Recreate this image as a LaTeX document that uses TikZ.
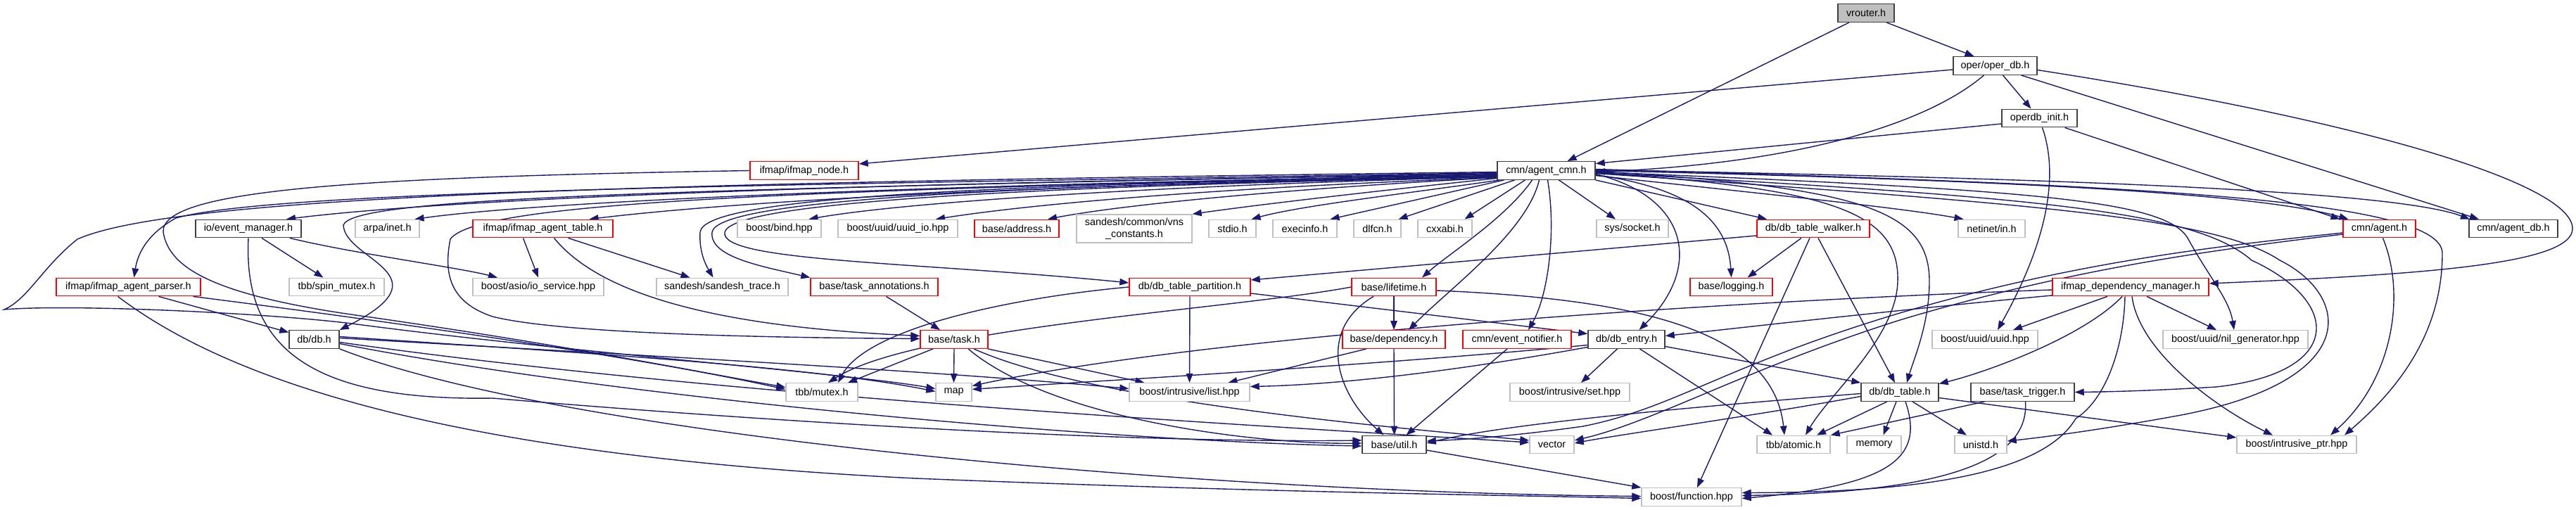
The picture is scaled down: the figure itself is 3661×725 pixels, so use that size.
\documentclass[tikz,border=0pt]{standalone}
\usepackage{fontspec}
\setmainfont{Liberation Sans}
\usetikzlibrary{arrows.meta}
\definecolor{edgec}{HTML}{191970}
\definecolor{nodeblack}{HTML}{404040}
\definecolor{nodered}{HTML}{FF0000}
\definecolor{nodegrey}{HTML}{BFBFBF}
\definecolor{rootfill}{HTML}{BFBFBF}
\pgfdeclarelayer{bg}
\pgfsetlayers{bg,main}
\tikzset{
  box/.style={rectangle, draw, line width=1.4pt, minimum height=25.5pt, inner xsep=3pt, inner ysep=2pt, fill=white, font=\fontsize{14.4}{16.5}\selectfont},
  nb/.style={box, draw=nodeblack},
  nr/.style={box, draw=nodered},
  ng/.style={box, draw=nodegrey},
  rootbox/.style={box, draw=nodeblack, fill=rootfill},
  e/.style={draw=edgec, line width=1.4pt, -{Triangle[length=13pt,width=9.5pt]}}
}
\begin{document}
\begin{tikzpicture}[x=1pt,y=-1pt]
\useasboundingbox (0,0) rectangle (3661,725);
% row 0-3
\node[rootbox, minimum width=80pt] (vrouter) at (2652,18.5) {vrouter.h};
\node[nb, minimum width=119pt] (operdb) at (2835.5,93.5) {oper/oper\_db.h};
\node[nb, minimum width=107pt] (operdbinit) at (2898.5,168) {operdb\_init.h};
\node[nr, minimum width=154pt] (ifmapnode) at (1143,242.5) {ifmap/ifmap\_node.h};
\node[nb, minimum width=139pt] (agentcmn) at (2197.5,242.5) {cmn/agent\_cmn.h};
% row 4
\node[nb, minimum width=150pt] (eventmgr) at (353,325) {io/event\_manager.h};
\node[ng, minimum width=91pt] (inet) at (550.5,325) {arpa/inet.h};
\node[nr, minimum width=199pt] (agenttable) at (771.5,325) {ifmap/ifmap\_agent\_table.h};
\node[ng, minimum width=119pt] (bind) at (1107.5,325) {boost/bind.hpp};
\node[ng, minimum width=170pt] (uuidio) at (1276,325) {boost/uuid/uuid\_io.hpp};
\node[nr, minimum width=120pt] (address) at (1445,325) {base/address.h};
\node[ng, minimum width=164pt, minimum height=40pt, align=center] (vns) at (1612,325) {sandesh/common/vns\\\_constants.h};
\node[ng, minimum width=67pt] (stdio) at (1751.5,325) {stdio.h};
\node[ng, minimum width=91pt] (execinfo) at (1854.5,325) {execinfo.h};
\node[ng, minimum width=67pt] (dlfcn) at (1957.5,325) {dlfcn.h};
\node[ng, minimum width=77pt] (cxxabi) at (2053.5,325) {cxxabi.h};
\node[ng, minimum width=102pt] (socket) at (2320,325) {sys/socket.h};
\node[nr, minimum width=160pt] (walker) at (2577,325) {db/db\_table\_walker.h};
\node[ng, minimum width=95pt] (netinet) at (2830.5,325) {netinet/in.h};
\node[nr, minimum width=103pt] (agent) at (3381.5,325) {cmn/agent.h};
\node[nb, minimum width=126pt] (agentdb) at (3572,325) {cmn/agent\_db.h};
% row 5
\node[nr, minimum width=205pt] (parser) at (182.5,408) {ifmap/ifmap\_agent\_parser.h};
\node[ng, minimum width=135pt] (spin) at (478.5,408) {tbb/spin\_mutex.h};
\node[ng, minimum width=186pt] (ioservice) at (765,408) {boost/asio/io\_service.hpp};
\node[ng, minimum width=187pt] (strace) at (1026.5,408) {sandesh/sandesh\_trace.h};
\node[nr, minimum width=181pt] (annot) at (1242.5,408) {base/task\_annotations.h};
\node[nr, minimum width=172pt] (partition) at (1691,408) {db/db\_table\_partition.h};
\node[nr, minimum width=120pt] (lifetime) at (1981,408) {base/lifetime.h};
\node[nr, minimum width=117pt] (logging) at (2460.5,408) {base/logging.h};
\node[nr, minimum width=222pt] (depmgr) at (3028,408) {ifmap\_dependency\_manager.h};
% row 6
\node[nb, minimum width=71pt] (db) at (446.5,482.5) {db/db.h};
\node[nr, minimum width=96pt] (task) at (1356,482.5) {base/task.h};
\node[nr, minimum width=146pt] (dependency) at (1981,482.5) {base/dependency.h};
\node[nr, minimum width=154pt] (notifier) at (2156,482.5) {cmn/event\_notifier.h};
\node[nb, minimum width=109pt] (dbentry) at (2311.5,482.5) {db/db\_entry.h};
\node[ng, minimum width=150pt] (uuid) at (2821,482.5) {boost/uuid/uuid.hpp};
\node[ng, minimum width=206pt] (nilgen) at (3177,482.5) {boost/uuid/nil\_generator.hpp};
% row 7
\node[ng, minimum width=102pt] (mutex) at (1168,557.5) {tbb/mutex.h};
\node[ng, minimum width=51pt] (map) at (1355.5,557.5) {map};
\node[ng, minimum width=171pt] (ilist) at (1690.5,557.5) {boost/intrusive/list.hpp};
\node[ng, minimum width=170pt] (iset) at (2231,557.5) {boost/intrusive/set.hpp};
\node[nb, minimum width=110pt] (dbtable) at (2700,557.5) {db/db\_table.h};
\node[nb, minimum width=147pt] (trigger) at (2874.5,557.5) {base/task\_trigger.h};
% row 8
\node[nb, minimum width=91pt] (util) at (1981.5,632) {base/util.h};
\node[ng, minimum width=63pt] (vector) at (2205.5,632) {vector};
\node[ng, minimum width=104pt] (atomic) at (2549,632) {tbb/atomic.h};
\node[ng, minimum width=77pt] (memory) at (2663.5,632) {memory};
\node[ng, minimum width=74pt] (unistd) at (2815,632) {unistd.h};
\node[ng, minimum width=170pt] (iptr) at (3264,632) {boost/intrusive\_ptr.hpp};
% row 9
\node[ng, minimum width=142pt] (function) at (2404,706.5) {boost/function.hpp};

\begin{pgfonlayer}{bg}
% top part
\draw[e] ([xshift=-24]vrouter.south) -- ([xshift=30]agentcmn.north);
\draw[e] ([xshift=29]vrouter.south) -- ([xshift=-30]operdb.north);
\draw[e] ([xshift=11]operdb.south) -- ([xshift=-12]operdbinit.north);
\draw[e] ([xshift=-16]operdb.south) .. controls (2740,175) and (2560,232) .. ([yshift=-2]agentcmn.east);
\draw[e] ([yshift=-5.5]operdb.west) -- ([yshift=9.5]ifmapnode.east);
\draw[e] ([xshift=37]operdb.south) -- ([xshift=-49]agentdb.north);
\draw[e] ([yshift=-6]operdb.east) .. controls (3350,170) and (3656,260) .. (3656,325) .. controls (3656,375) and (3450,390) .. ([yshift=5]depmgr.east);
\draw[e] ([yshift=-8]operdbinit.west) -- ([yshift=10]agentcmn.east);
\draw[e] ([xshift=36]operdbinit.south) -- ([xshift=-56]agent.north);
\draw[e] ([xshift=4]operdbinit.south) .. controls (2930,260) and (2900,360) .. ([xshift=18]uuid.north);
% agent_cmn to the left
\draw[e] ([yshift=-2]agentcmn.west) .. controls (900,260) and (250,278) .. (110,340) .. controls (60,380) and (40,425) .. (6,440) .. controls (100,432) and (380,445) .. (500,460) .. controls (800,500) and (1200,530) .. ([yshift=5]map.west);
\draw[e] ([yshift=-3]agentcmn.west) .. controls (1200,262) and (400,268) .. (250,310) .. controls (205,335) and (195,365) .. ([xshift=8]parser.north);
\draw[e] ([yshift=-4]agentcmn.west) .. controls (900,270) and (500,282) .. (488,320) .. controls (490,370) and (640,390) .. (db.north east);
\draw[e] ([yshift=-5]agentcmn.west) .. controls (1200,270) and (680,283) .. (640,340) .. controls (630,390) and (640,430) .. (700,450) .. controls (800,475) and (1100,480) .. ([yshift=1]task.west);
\draw[e] ([yshift=-6]agentcmn.west) .. controls (1500,255) and (700,275) .. ([xshift=54]eventmgr.north);
\draw[e] ([yshift=-7]agentcmn.west) .. controls (1500,258) and (800,282) .. ([xshift=39]inet.north);
\draw[e] ([yshift=-8]agentcmn.west) .. controls (1600,260) and (1100,280) .. ([xshift=66]agenttable.north);
\draw[e] ([yshift=-8]agentcmn.west) .. controls (1400,262) and (1000,280) .. (995,330) .. controls (993,360) and (1005,380) .. ([xshift=-13]strace.north);
\draw[e] ([yshift=-9]agentcmn.west) .. controls (1400,264) and (1020,285) .. (1012,330) .. controls (1008,365) and (1080,378) .. (annot.north west);
\draw[e] ([yshift=-9]agentcmn.west) .. controls (1400,266) and (1040,290) .. (1030,330) .. controls (1022,372) and (1300,372) .. ([yshift=6]partition.west);
\draw[e] ([yshift=-9]agentcmn.west) .. controls (1700,262) and (1300,285) .. ([xshift=42]bind.north);
\draw[e] ([yshift=-10]agentcmn.west) .. controls (1800,264) and (1500,285) .. ([xshift=54]uuidio.north);
\draw[e] ([yshift=-10]agentcmn.west) .. controls (1850,267) and (1600,290) .. ([xshift=44]address.north);
\draw[e] ([yshift=-11]agentcmn.west) .. controls (1950,272) and (1780,292) .. (vns.north east);
\draw[e] ([xshift=4]agentcmn.south west) .. controls (2000,275) and (1850,292) .. ([xshift=27]stdio.north);
\draw[e] ([xshift=-60]agentcmn.south) -- ([xshift=36]execinfo.north);
\draw[e] ([xshift=-45]agentcmn.south) -- ([xshift=30]dlfcn.north);
\draw[e] ([xshift=-30]agentcmn.south) -- ([xshift=28]cxxabi.north);
\draw[e] ([xshift=18]agentcmn.south) -- ([xshift=-24]socket.north);
% agent_cmn downwards
\draw[e] ([xshift=-20]agentcmn.south) .. controls (2140,310) and (2060,360) .. ([xshift=40]lifetime.north);
\draw[e] ([xshift=-10]agentcmn.south) .. controls (2170,330) and (2060,410) .. ([xshift=21]dependency.north);
\draw[e] ([xshift=2]agentcmn.south) .. controls (2212,330) and (2200,420) .. ([xshift=16]notifier.north);
\draw[e] ([yshift=-5]agentcmn.east) .. controls (2400,280) and (2420,380) .. ([xshift=18]dbentry.north);
\draw[e] ([yshift=-6]agentcmn.east) .. controls (2380,265) and (2455,300) .. (logging.north);
\draw[e] (agentcmn.south east) -- ([xshift=-66]walker.north);
\draw[e] ([yshift=-7]agentcmn.east) .. controls (2500,275) and (2700,295) .. ([xshift=-40]netinet.north);
\draw[e] ([yshift=-3]agentcmn.east) .. controls (2600,268) and (2700,300) .. (2697,400) .. controls (2695,480) and (2600,560) .. ([xshift=17]atomic.north);
\draw[e] ([yshift=-1]agentcmn.east) .. controls (2650,266) and (2742,300) .. (2742,400) .. controls (2742,460) and (2720,510) .. ([xshift=10]dbtable.north);
% agent_cmn to the right
\draw[e] ([yshift=0]agentcmn.east) .. controls (2800,255) and (3200,272) .. ([xshift=-44]agent.north);
\draw[e] ([yshift=1]agentcmn.east) .. controls (2900,253) and (3400,270) .. ([xshift=-62]agentdb.north);
\draw[e] ([yshift=2]agentcmn.east) .. controls (3000,262) and (3471,280) .. (3471,360) .. controls (3471,480) and (3400,560) .. ([xshift=68]iptr.north);
\draw[e] ([yshift=-2]agentcmn.east) .. controls (2900,270) and (3080,285) .. (3110,340) .. controls (3140,395) and (3168,425) .. ([xshift=-2]nilgen.north);
\draw[e] ([yshift=-3]agentcmn.east) .. controls (2900,280) and (3120,300) .. (3200,370) .. controls (3330,430) and (3330,530) .. (3150,550) .. controls (3050,556) and (2990,557) .. (trigger.east);
\draw[e] ([yshift=-4]agentcmn.east) .. controls (2900,290) and (3150,310) .. (3240,370) .. controls (3340,420) and (3360,540) .. (3100,590) .. controls (2980,612) and (2900,622) .. ([yshift=5]unistd.east);
% row 4/5 sources on the left
\draw[e] ([xshift=-28]agenttable.south) -- (ioservice.north);
\draw[e] ([xshift=16]agenttable.south) .. controls (870,440) and (1100,468) .. ([yshift=5]task.west);
\draw[e] ([xshift=36]agenttable.south) -- ([xshift=-46]strace.north);
\draw[e] ([xshift=19]eventmgr.south) -- ([xshift=-19]spin.north);
\draw[e] ([xshift=59]eventmgr.south) .. controls (500,360) and (650,380) .. ([xshift=-58]ioservice.north);
\draw[e] (eventmgr.south) .. controls (345,500) and (450,570) .. (700,566) .. controls (1100,600) and (1600,630) .. ([yshift=6]util.west);
\draw[e] ([xshift=43]parser.south) -- ([yshift=10]db.west);
\draw[e] ([xshift=92]parser.south) .. controls (500,450) and (900,505) .. ([yshift=4]mutex.west);
\draw[e] ([xshift=-15]parser.south) .. controls (350,560) and (700,650) .. (1300,680) .. controls (1800,700) and (2100,703) .. ([yshift=-2]function.west);
\draw[e] (ifmapnode.west) .. controls (500,252) and (228,270) .. (232,330) .. controls (240,380) and (300,420) .. (520,450) .. controls (800,490) and (1000,530) .. ([yshift=7]mutex.west);
% db/db.h
\draw[e] ([yshift=4]db.east) .. controls (800,500) and (1150,520) .. ([yshift=1]map.west);
\draw[e] ([yshift=2]db.east) .. controls (900,505) and (1300,525) .. ([yshift=5]ilist.west);
\draw[e] ([yshift=-4]db.east) .. controls (1000,560) and (1700,600) .. ([yshift=3]vector.west);
\draw[e] ([yshift=-6]db.east) .. controls (900,570) and (1600,628) .. ([yshift=-2]util.west);
\draw[e] (db.south east) .. controls (800,620) and (1700,700) .. ([yshift=1]function.west);
% base/task.h
\draw[e] ([xshift=17]annot.south) -- ([xshift=-20]task.north);
\draw[e] ([xshift=-30]task.south) -- ([xshift=37]mutex.north);
\draw[e] (task.south) -- (map.north);
\draw[e] ([xshift=48]task.south) -- ([xshift=-64]ilist.north);
\draw[e] ([xshift=28]task.south) .. controls (1550,570) and (1950,605) .. ([yshift=6]vector.west);
\draw[e] ([xshift=20]task.south) .. controls (1500,600) and (1800,632) .. ([yshift=2]util.west);
% partition / walker / lifetime
\draw[e] (partition.west) .. controls (1420,425) and (1230,470) .. ([xshift=23]mutex.north);
\draw[e] (partition.south) -- (ilist.north);
\draw[e] ([yshift=-9]partition.east) -- ([yshift=8]dbentry.west);
\draw[e] ([yshift=-10]walker.west) -- ([yshift=10]partition.east);
\draw[e] ([xshift=-17]walker.south) -- ([xshift=23]logging.north);
\draw[e] ([xshift=7]walker.south) -- ([xshift=-7]dbtable.north);
\draw[e] ([xshift=-5]walker.south) -- ([xshift=8]function.north);
\draw[e] (lifetime.west) .. controls (1750,440) and (1300,465) .. ([xshift=9]mutex.north);
\draw[e] (lifetime.south) -- (dependency.north);
\draw[e] ([xshift=-29]lifetime.south) .. controls (1870,470) and (1900,560) .. ([xshift=-15]util.north);
\draw[e] ([yshift=-5]lifetime.east) .. controls (2330,425) and (2520,470) .. ([xshift=-13]atomic.north);
% row 6 sources
\draw[e] (dependency.south) -- (util.north);
\draw[e] ([xshift=-39]dependency.south) -- ([xshift=55]ilist.north);
\draw[e] ([xshift=-14]notifier.south) -- ([xshift=17]util.north);
\draw[e] ([xshift=-13]dbentry.south) -- ([xshift=16]iset.north);
\draw[e] ([yshift=-10]dbentry.east) -- (dbtable.north west);
\draw[e] ([xshift=19]dbentry.south) -- ([xshift=-30]atomic.north);
\draw[e] ([yshift=-8]dbentry.west) .. controls (1950,520) and (1500,545) .. ([yshift=4]map.east);
\draw[e] ([yshift=-11]dbentry.west) .. controls (2000,540) and (1850,548) .. ([yshift=8]ilist.east);
% ifmap_dependency_manager.h
\draw[e] ([yshift=-4]depmgr.west) .. controls (2400,430) and (1700,480) .. ([yshift=9]map.east);
\draw[e] ([yshift=-12]depmgr.west) .. controls (2700,440) and (2420,472) .. ([yshift=5]dbentry.east);
\draw[e] ([xshift=-33]depmgr.south) -- ([xshift=40]uuid.north);
\draw[e] ([xshift=-12]depmgr.south) .. controls (2960,480) and (2820,530) .. ([yshift=12]dbtable.east);
\draw[e] ([xshift=-8]depmgr.south) .. controls (3018,500) and (2990,570) .. (2950,595) .. controls (2900,680) and (2700,700) .. ([yshift=6]function.east);
\draw[e] ([xshift=2]depmgr.south) .. controls (3040,500) and (3150,580) .. ([xshift=-34]iptr.north);
\draw[e] ([xshift=23]depmgr.south) -- ([xshift=-27]nilgen.north);
% cmn/agent.h
\draw[e] ([yshift=-6]agent.west) .. controls (3150,350) and (2950,372) .. (2700,445) .. controls (2450,520) and (2380,580) .. (2250,606) .. controls (2150,620) and (2080,625) .. ([yshift=5]util.east);
\draw[e] ([yshift=-8]agent.west) .. controls (3150,355) and (2950,380) .. (2700,455) .. controls (2480,525) and (2350,600) .. ([yshift=6]vector.east);
\draw[e] ([xshift=5]agent.south) .. controls (3420,420) and (3400,540) .. ([xshift=48]iptr.north);
% db/db_table.h
\draw[e] ([yshift=-6]dbtable.west) .. controls (2500,590) and (2300,618) .. ([yshift=2]vector.east);
\draw[e] ([yshift=-2]dbtable.west) .. controls (2450,575) and (2150,600) .. ([yshift=2]util.east);
\draw[e] ([xshift=-18]dbtable.south) -- ([xshift=33]atomic.north);
\draw[e] ([xshift=-5]dbtable.south) -- ([xshift=13]memory.north);
\draw[e] ([xshift=8]dbtable.south) .. controls (2735,650) and (2690,690) .. ([yshift=-2]function.east);
\draw[e] ([xshift=18]dbtable.south) -- ([xshift=-20]unistd.north);
\draw[e] ([yshift=-8]dbtable.east) -- ([yshift=10]iptr.west);
% task_trigger, util
\draw[e] ([xshift=-54]trigger.south) -- (atomic.north east);
\draw[e] ([xshift=4]trigger.south) .. controls (2885,660) and (2750,700) .. ([yshift=2]function.east);
\draw[e] ([yshift=-8]util.east) -- (function.north west);
\end{pgfonlayer}
\end{tikzpicture}
\end{document}
